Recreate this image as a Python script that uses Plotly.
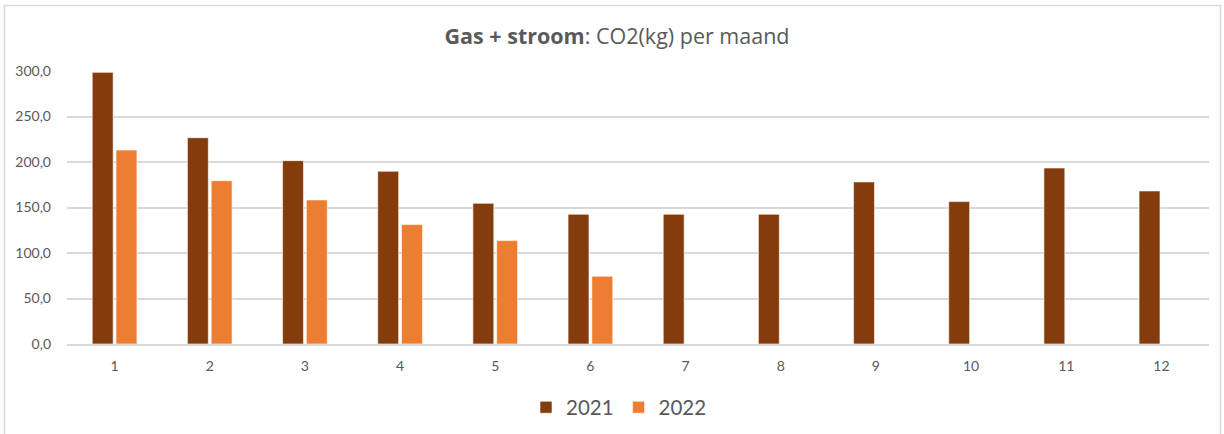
import plotly.graph_objects as go

months = ["1", "2", "3", "4", "5", "6", "7", "8", "9", "10", "11", "12"]
co2_2021 = [298.5, 226.7, 201.5, 189.8, 154.6, 142.6, 142.6, 142.6, 178.1, 156.5, 193.4, 168.2]
co2_2022 = [213.2, 179.5, 158.3, 131.2, 113.6, 74.5, None, None, None, None, None, None]
series_names = ["2021", "2022"]
y_ticks = [0, 50, 100, 150, 200, 250, 300]

FONT = "Lato, 'Open Sans', sans-serif"
TXT = "#595959"

fig = go.Figure()
fig.add_trace(go.Bar(x=months, y=co2_2021, name=series_names[0],
                     marker=dict(color="#843C0C", line=dict(color="rgba(255,255,255,0.6)", width=1))))
fig.add_trace(go.Bar(x=months, y=co2_2022, name=series_names[1],
                     marker=dict(color="#ED7D31", line=dict(color="rgba(255,255,255,0.6)", width=1))))

W, H = 1224, 434
ml, mr, mt, mb = 67, 15, 71, 89.5
pw, ph = W - ml - mr, H - mt - mb

def px_to_paper_x(px):
    return (px - ml) / pw

def px_to_paper_y(py):
    return (H - mb - py) / ph

fig.update_layout(
    width=W, height=H,
    margin=dict(l=ml, r=mr, t=mt, b=mb, autoexpand=False),
    paper_bgcolor="white", plot_bgcolor="white",
    separators=",.",
    barmode="group", bargap=0.5, bargroupgap=0.12,
    font=dict(family=FONT, color=TXT, size=14),
    title=dict(text="<b>Gas + stroom</b>: CO2(kg) per maand",
               x=px_to_paper_x(617), xref="paper", xanchor="center",
               y=1 - 36 / H, yref="container", yanchor="middle",
               font=dict(family="'Open Sans', sans-serif", size=21.5, color=TXT)),
    legend=dict(orientation="h", x=px_to_paper_x(526), xanchor="left", xref="paper",
                y=px_to_paper_y(408), yanchor="middle",
                font=dict(family=FONT, size=20.5, color=TXT),
                itemwidth=30, traceorder="normal"),
    xaxis=dict(showgrid=False, showline=True, linecolor="#D9D9D9", linewidth=1.5,
               ticks="", tickfont=dict(size=14, color=TXT), ticklabelstandoff=8),
    yaxis=dict(range=[0, 300], tickvals=y_ticks, tickformat=".1f",
               showgrid=True, gridcolor="#D9D9D9", gridwidth=1.5,
               zeroline=False, showline=False, ticks="",
               tickfont=dict(size=14, color=TXT), ticklabelstandoff=15),
    shapes=[dict(type="rect", xref="paper", yref="paper",
                 x0=px_to_paper_x(4.5), x1=px_to_paper_x(1220.5),
                 y0=px_to_paper_y(440), y1=px_to_paper_y(5.5),
                 line=dict(color="#D9D9D9", width=1.5), fillcolor="rgba(0,0,0,0)",
                 layer="below")],
)

fig.write_html("out.html", config={"displayModeBar": False},
               post_script="document.body.style.margin='0';document.body.style.overflow='hidden';")
